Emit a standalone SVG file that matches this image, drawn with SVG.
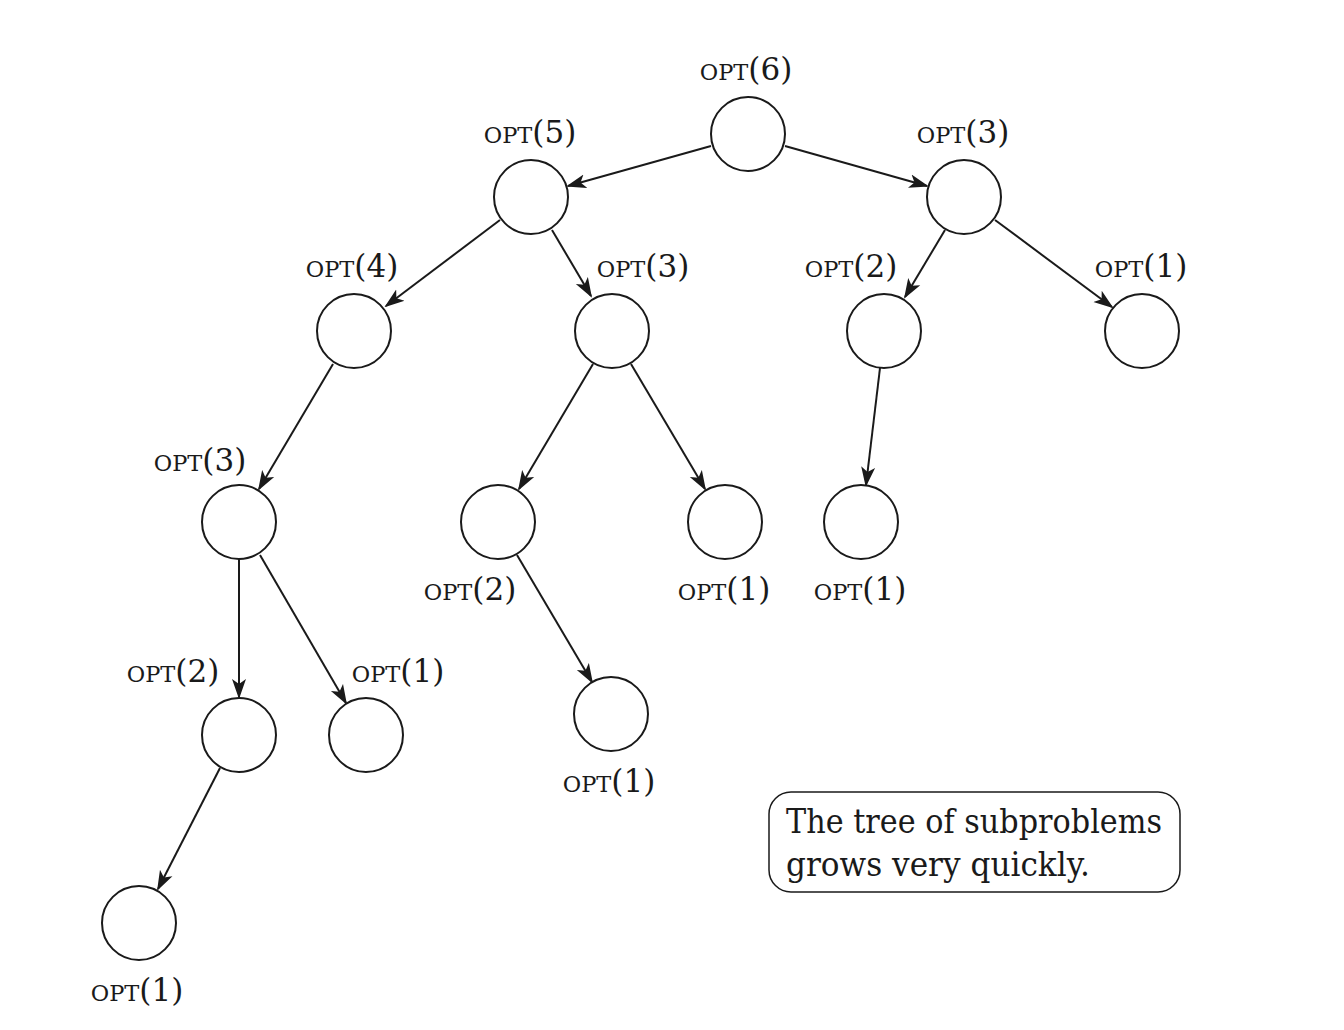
<svg xmlns="http://www.w3.org/2000/svg" width="1344" height="1030" viewBox="0 0 1344 1030">
<style>
.n{fill:#fff;stroke:#1a1a1a;stroke-width:2}
.e{stroke:#1a1a1a;stroke-width:2;fill:none;marker-end:url(#ah)}
.l{font-family:"DejaVu Serif","Liberation Serif",serif;fill:#1a1a1a;text-anchor:middle}
.sc{font-size:22.5px}
.p{font-size:31px}
.t{font-family:"DejaVu Serif","Liberation Serif",serif;font-size:33px;fill:#1a1a1a}
</style>
<defs>
<marker id="ah" markerUnits="userSpaceOnUse" markerWidth="20" markerHeight="16" viewBox="0 0 20 16" refX="18" refY="8" orient="auto">
<path d="M0,1 L20,8 L0,15 L5,8 z" fill="#1a1a1a"/>
</marker>
</defs>
<rect width="1344" height="1030" fill="#fff"/>
<g id="connectors">
<line class="e" x1="711" y1="146" x2="568" y2="186"/>
<line class="e" x1="785" y1="146" x2="927" y2="186"/>
<line class="e" x1="500" y1="220" x2="386" y2="306"/>
<line class="e" x1="552" y1="230" x2="591" y2="296"/>
<line class="e" x1="945" y1="230" x2="905" y2="297"/>
<line class="e" x1="995" y1="220" x2="1112" y2="307"/>
<line class="e" x1="333" y1="364" x2="259" y2="489"/>
<line class="e" x1="593" y1="364" x2="519" y2="489"/>
<line class="e" x1="631" y1="364" x2="705" y2="489"/>
<line class="e" x1="880" y1="368" x2="866" y2="485"/>
<line class="e" x1="239" y1="559" x2="239" y2="697"/>
<line class="e" x1="260" y1="555" x2="346" y2="703"/>
<line class="e" x1="517" y1="555" x2="592" y2="682"/>
<line class="e" x1="220" y1="768" x2="158" y2="889"/>
</g>
<g id="n6"><circle class="n" cx="748" cy="134" r="37"/><text class="l" x="746" y="80"><tspan class="sc">OPT</tspan><tspan class="p">(6)</tspan></text></g>
<g id="n5"><circle class="n" cx="531" cy="197" r="37"/><text class="l" x="530" y="143"><tspan class="sc">OPT</tspan><tspan class="p">(5)</tspan></text></g>
<g id="n3a"><circle class="n" cx="964" cy="197" r="37"/><text class="l" x="963" y="143"><tspan class="sc">OPT</tspan><tspan class="p">(3)</tspan></text></g>
<g id="n4"><circle class="n" cx="354" cy="331" r="37"/><text class="l" x="352" y="277"><tspan class="sc">OPT</tspan><tspan class="p">(4)</tspan></text></g>
<g id="n3b"><circle class="n" cx="612" cy="331" r="37"/><text class="l" x="643" y="277"><tspan class="sc">OPT</tspan><tspan class="p">(3)</tspan></text></g>
<g id="n2a"><circle class="n" cx="884" cy="331" r="37"/><text class="l" x="851" y="277"><tspan class="sc">OPT</tspan><tspan class="p">(2)</tspan></text></g>
<g id="n1a"><circle class="n" cx="1142" cy="331" r="37"/><text class="l" x="1141" y="277"><tspan class="sc">OPT</tspan><tspan class="p">(1)</tspan></text></g>
<g id="n3c"><circle class="n" cx="239" cy="522" r="37"/><text class="l" x="200" y="471"><tspan class="sc">OPT</tspan><tspan class="p">(3)</tspan></text></g>
<g id="n2b"><circle class="n" cx="498" cy="522" r="37"/><text class="l" x="470" y="600"><tspan class="sc">OPT</tspan><tspan class="p">(2)</tspan></text></g>
<g id="n1b"><circle class="n" cx="725" cy="522" r="37"/><text class="l" x="724" y="600"><tspan class="sc">OPT</tspan><tspan class="p">(1)</tspan></text></g>
<g id="n1c"><circle class="n" cx="861" cy="522" r="37"/><text class="l" x="860" y="600"><tspan class="sc">OPT</tspan><tspan class="p">(1)</tspan></text></g>
<g id="n2c"><circle class="n" cx="239" cy="735" r="37"/><text class="l" x="173" y="682"><tspan class="sc">OPT</tspan><tspan class="p">(2)</tspan></text></g>
<g id="n1d"><circle class="n" cx="366" cy="735" r="37"/><text class="l" x="398" y="682"><tspan class="sc">OPT</tspan><tspan class="p">(1)</tspan></text></g>
<g id="n1e"><circle class="n" cx="611" cy="714" r="37"/><text class="l" x="609" y="792"><tspan class="sc">OPT</tspan><tspan class="p">(1)</tspan></text></g>
<g id="n1f"><circle class="n" cx="139" cy="923" r="37"/><text class="l" x="137" y="1001"><tspan class="sc">OPT</tspan><tspan class="p">(1)</tspan></text></g>
<g id="note">
<rect x="769" y="792" width="411" height="100" rx="22" fill="#fff" stroke="#1a1a1a" stroke-width="1.5"/>
<text class="t" x="786" y="833" textLength="376" lengthAdjust="spacingAndGlyphs">The tree of subproblems</text>
<text class="t" x="786" y="876" textLength="304" lengthAdjust="spacingAndGlyphs">grows very quickly.</text>
</g>
</svg>
